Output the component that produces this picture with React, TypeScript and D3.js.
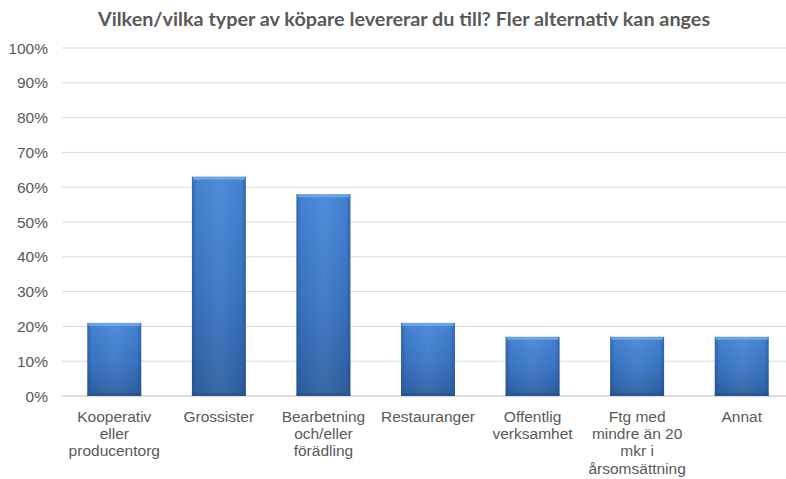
import React from "react";
import * as d3 from "d3";

const title = "Vilken/vilka typer av köpare levererar du till? Fler alternativ kan anges";
const categories = [
  ["Kooperativ", "eller", "producentorg"],
  ["Grossister"],
  ["Bearbetning", "och/eller", "förädling"],
  ["Restauranger"],
  ["Offentlig", "verksamhet"],
  ["Ftg med", "mindre än 20", "mkr i", "årsomsättning"],
  ["Annat"],
];
const values = [0.21, 0.63, 0.58, 0.21, 0.17, 0.17, 0.17];
const yTicks = [0, 0.1, 0.2, 0.3, 0.4, 0.5, 0.6, 0.7, 0.8, 0.9, 1.0];

const W = 786;
const H = 479;
const left = 62;
const right = 794;
const top = 48;
const bottom = 396;

export default function App() {
  const keys = categories.map((_, i) => String(i));
  const x = d3.scaleBand().domain(keys).range([left, right]).paddingInner(0.485).paddingOuter(0.2425);
  const y = d3.scaleLinear().domain([0, 1]).range([bottom, top]);
  const fmt = d3.format(".0%");
  const bw = x.bandwidth();

  return (
    <svg width={W} height={H} style={{ position: "fixed", left: 0, top: 0, background: "#fff" }}>
      <defs>
        <linearGradient id="gv" x1="0" y1="0" x2="0" y2="1">
          <stop offset="0" stopColor="#4686d6" />
          <stop offset="0.5" stopColor="#3a76c6" />
          <stop offset="1" stopColor="#2d5f9f" />
        </linearGradient>
        <linearGradient id="gh" x1="0" y1="0" x2="1" y2="0">
          <stop offset="0" stopColor="#1c3f70" stopOpacity="0.45" />
          <stop offset="0.08" stopColor="#1c3f70" stopOpacity="0.05" />
          <stop offset="0.5" stopColor="#ffffff" stopOpacity="0.06" />
          <stop offset="0.92" stopColor="#1c3f70" stopOpacity="0.05" />
          <stop offset="1" stopColor="#1c3f70" stopOpacity="0.45" />
        </linearGradient>
      </defs>
      <text x={404} y={26} textAnchor="middle" fontFamily="Lato, 'Open Sans', sans-serif" fontWeight="bold" fontSize={19.8} fill="#595959">
        {title}
      </text>
      {yTicks.map((t) => (
        <g key={t}>
          <line x1={left} x2={W} y1={y(t)} y2={y(t)} stroke={t === 0 ? "#d0d0d0" : "#d9d9d9"} strokeWidth={t === 0 ? 1.5 : 1} />
          <text x={48} y={y(t)} dy="0.36em" textAnchor="end" fontFamily="'Liberation Sans', Arial, sans-serif" fontSize={15.5} fill="#595959">
            {fmt(t)}
          </text>
        </g>
      ))}
      {values.map((v, i) => {
        const bx = x(String(i))!;
        const by = y(v);
        const bh = y(0) - by;
        return (
          <g key={i}>
            <rect x={bx} y={by} width={bw} height={bh} fill="url(#gv)" />
            <rect x={bx} y={by} width={bw} height={bh} fill="url(#gh)" />
            <rect x={bx + 1} y={by} width={bw - 2} height={3} fill="#7fb0ec" opacity={0.7} />
            <rect x={bx} y={by + bh - 3} width={bw} height={3} fill="#24508a" opacity={0.6} />
          </g>
        );
      })}
      {categories.map((lines, i) => {
        const cx = x(String(i))! + bw / 2;
        return (
          <text key={i} x={cx} y={421.5} textAnchor="middle" fontFamily="'Liberation Sans', Arial, sans-serif" fontSize={15.5} fill="#595959">
            {lines.map((l, j) => (
              <tspan key={j} x={cx} dy={j === 0 ? 0 : 17.4}>
                {l}
              </tspan>
            ))}
          </text>
        );
      })}
    </svg>
  );
}
